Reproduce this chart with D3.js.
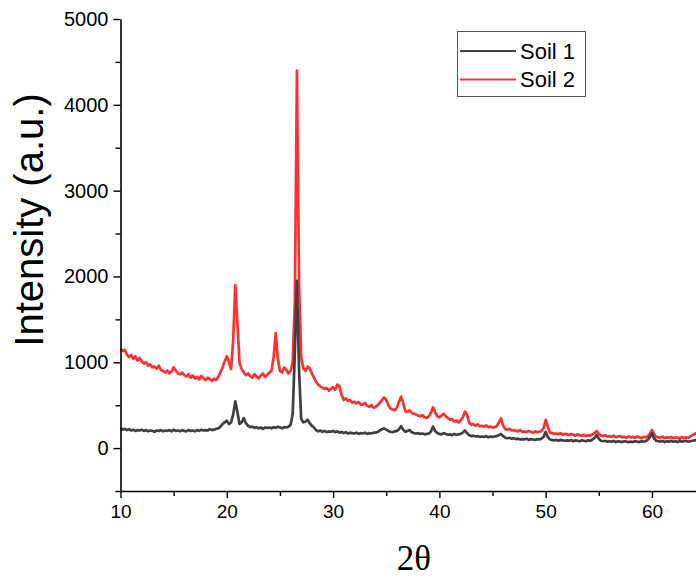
<!DOCTYPE html>
<html>
<head>
<meta charset="utf-8">
<script src="https://cdn.jsdelivr.net/npm/d3@7"></script>
<style>
  body { margin: 0; background: #fff; }
  svg text { font-family: "Liberation Sans", Arial, sans-serif; }
</style>
</head>
<body>
<div id="chart"></div>
<script>
// 2θ grid: 10.0 .. 64.2, step 0.2
const twoThetaStart = 10;
const twoThetaStep = 0.2;

// Soil 1 intensity (a.u.)
const soil1 = [
  235, 215, 225, 210, 220, 205, 215, 200, 210, 205,
  215, 200, 210, 195, 205, 200, 190, 205, 200, 210,
  195, 205, 200, 210, 195, 215, 200, 205, 195, 210,
  200, 195, 210, 200, 205, 195, 210, 200, 215, 205,
  210, 205, 220, 210, 215, 225, 230, 250, 280, 300,
  320, 280, 300, 390, 545, 420, 280, 300, 350, 290,
  260, 245, 250, 235, 245, 230, 240, 225, 240, 235,
  240, 230, 245, 235, 250, 240, 230, 245, 240, 250,
  270, 400, 1100, 1950, 900, 340, 300, 310, 330, 290,
  260, 240, 210, 195, 205, 190, 200, 185, 195, 190,
  200, 185, 195, 180, 190, 175, 185, 170, 180, 175,
  170, 180, 165, 175, 170, 180, 165, 175, 170, 180,
  180, 190, 205, 220, 230, 215, 200, 190, 185, 195,
  200, 220, 255, 215, 190, 200, 210, 185, 175, 170,
  175, 165, 170, 160, 165, 170, 190, 250, 200, 175,
  165, 160, 175, 165, 155, 160, 150, 165, 155, 160,
  165, 180, 205, 175, 150, 140, 145, 135, 140, 130,
  135, 130, 140, 125, 135, 130, 135, 140, 150, 165,
  140, 120, 115, 120, 110, 115, 105, 110, 100, 105,
  100, 110, 95, 105, 100, 95, 105, 100, 110, 130,
  190, 130, 100, 95, 90, 95, 85, 95, 90, 85,
  90, 85, 95, 80, 90, 85, 80, 90, 85, 80,
  90, 85, 100, 120, 150, 110, 85, 80, 85, 75,
  80, 75, 85, 70, 80, 75, 70, 80, 75, 70,
  75, 70, 80, 75, 70, 80, 75, 80, 95, 130,
  170, 110, 85, 80, 75, 85, 70, 80, 75, 85,
  75, 80, 70, 85, 75, 80, 85, 75, 80, 85,
  90, 95
];

// Soil 2 intensity (a.u.)
const soil2 = [
  1160, 1130, 1145, 1090, 1060, 1085, 1040, 1070, 1020, 1050,
  1010, 985, 1000, 960, 975, 940, 950, 925, 960, 910,
  900, 880, 905, 870, 895, 940, 905, 870, 860, 880,
  850, 835, 860, 820, 845, 810, 830, 800, 840, 815,
  790, 820, 805, 780, 810, 795, 830, 880, 940, 1010,
  1070, 1000, 920, 1250, 1900, 1450, 990, 920, 880, 850,
  870, 840, 820, 860, 835, 810, 845, 870, 830, 855,
  880, 900, 1050, 1340, 1040, 900, 880, 940, 910, 870,
  900, 1000, 1700, 4400, 1900, 1050, 930, 900, 950, 930,
  870, 820, 770, 740, 720, 700, 690, 700, 670, 690,
  710, 680, 740, 720, 620, 560, 580, 550, 560, 530,
  540, 520, 535, 510, 505, 525, 495, 480, 500, 470,
  480, 500, 530, 560, 590, 560, 500, 460, 450, 440,
  470, 540, 600, 520, 430, 420, 440, 410, 400, 390,
  380, 370, 385, 360, 350, 370, 410, 475, 420, 370,
  360, 380, 400, 370, 350, 330, 340, 310, 320, 300,
  320, 360, 425, 390, 300, 270, 280, 260, 275, 255,
  260, 250, 265, 245, 250, 240, 245, 255, 300, 345,
  260, 220, 215, 225, 205, 210, 200, 195, 210, 190,
  195, 185, 200, 190, 180, 195, 185, 190, 200, 230,
  330, 250, 180, 175, 165, 170, 160, 175, 155, 165,
  160, 150, 165, 155, 145, 160, 150, 145, 155, 140,
  150, 145, 160, 175, 200, 165, 145, 140, 150, 135,
  140, 130, 145, 125, 135, 140, 125, 130, 120, 135,
  125, 130, 120, 135, 125, 115, 130, 125, 140, 165,
  210, 165, 130, 125, 120, 135, 115, 125, 120, 130,
  115, 125, 120, 110, 130, 115, 125, 120, 135, 150,
  165, 175
];

const seriesNames = ["Soil 1", "Soil 2"];
const seriesColors = ["#404040", "#ff3030"];
const xTicks = [10, 20, 30, 40, 50, 60];
const yTicks = [0, 1000, 2000, 3000, 4000, 5000];

const width = 696, height = 579;
const svg = d3.select("#chart").append("svg")
    .attr("width", width).attr("height", height);

// scales
const x = d3.scaleLinear().domain([10, 64.2]).range([120.5, 696.6]);
const y = d3.scaleLinear().domain([-500, 5000]).range([491, 19]);

const toPoints = arr => arr.map((v, i) => [twoThetaStart + i * twoThetaStep, v]);

const line = d3.line()
    .x(d => x(d[0]))
    .y(d => y(d[1]));

const plot = svg.append("g");
// red under grey
plot.append("path")
    .datum(toPoints(soil2))
    .attr("fill", "none")
    .attr("stroke", seriesColors[1])
    .attr("stroke-width", 2.7)
    .attr("stroke-linejoin", "round")
    .attr("d", line);
plot.append("path")
    .datum(toPoints(soil1))
    .attr("fill", "none")
    .attr("stroke", seriesColors[0])
    .attr("stroke-width", 2.7)
    .attr("stroke-linejoin", "round")
    .attr("d", line);

// axes
const xAxis = svg.append("g")
    .attr("transform", `translate(0,${y(-500)})`)
    .call(d3.axisBottom(x).tickValues(xTicks).tickFormat(d3.format("d")).tickSize(7).tickSizeOuter(0));
svg.append("g")
    .attr("transform", `translate(0,${y(-500)})`)
    .call(d3.axisBottom(x).tickValues([15, 25, 35, 45, 55]).tickFormat("").tickSize(5).tickSizeOuter(0))
    .select(".domain").remove();

const yAxis = svg.append("g")
    .attr("transform", `translate(${x(10)},0)`)
    .call(d3.axisLeft(y).tickValues(yTicks).tickFormat(d3.format("d")).tickSize(7).tickSizeOuter(0));
svg.append("g")
    .attr("transform", `translate(${x(10)},0)`)
    .call(d3.axisLeft(y).tickValues([-500, 500, 1500, 2500, 3500, 4500]).tickFormat("").tickSize(5).tickSizeOuter(0))
    .select(".domain").remove();

svg.selectAll(".domain").attr("stroke", "#000").attr("stroke-width", 1.6);
svg.selectAll(".tick line").attr("stroke", "#000").attr("stroke-width", 1.4);
xAxis.selectAll(".tick text")
    .attr("font-size", 19)
    .attr("font-family", "Liberation Sans, Arial, sans-serif")
    .attr("fill", "#000")
    .attr("dy", "0.9em");
yAxis.selectAll(".tick text")
    .attr("font-size", 20)
    .attr("font-family", "Liberation Sans, Arial, sans-serif")
    .attr("fill", "#000")
    .attr("x", -12);

// axis titles
svg.append("text")
    .attr("transform", `translate(43,220) rotate(-90)`)
    .attr("text-anchor", "middle")
    .attr("font-size", 40)
    .attr("fill", "#000")
    .text("Intensity (a.u.)");

svg.append("text")
    .attr("x", 414).attr("y", 570)
    .attr("text-anchor", "middle")
    .attr("font-size", 35)
    .style("font-family", "'Liberation Serif', 'Times New Roman', serif")
    .attr("fill", "#000")
    .text("2θ");

// legend
const legend = svg.append("g");
legend.append("rect")
    .attr("x", 457.5).attr("y", 31.5)
    .attr("width", 128).attr("height", 65)
    .attr("fill", "#fff")
    .attr("stroke", "#555")
    .attr("stroke-width", 1);
seriesNames.forEach((name, i) => {
  const ly = 51 + i * 28.5;
  legend.append("line")
      .attr("x1", 460).attr("x2", 516)
      .attr("y1", ly).attr("y2", ly)
      .attr("stroke", seriesColors[i])
      .attr("stroke-width", 2);
  legend.append("text")
      .attr("x", 520).attr("y", ly + 7.5)
      .attr("font-size", 22)
      .attr("fill", "#000")
      .text(name);
});
</script>
</body>
</html>
